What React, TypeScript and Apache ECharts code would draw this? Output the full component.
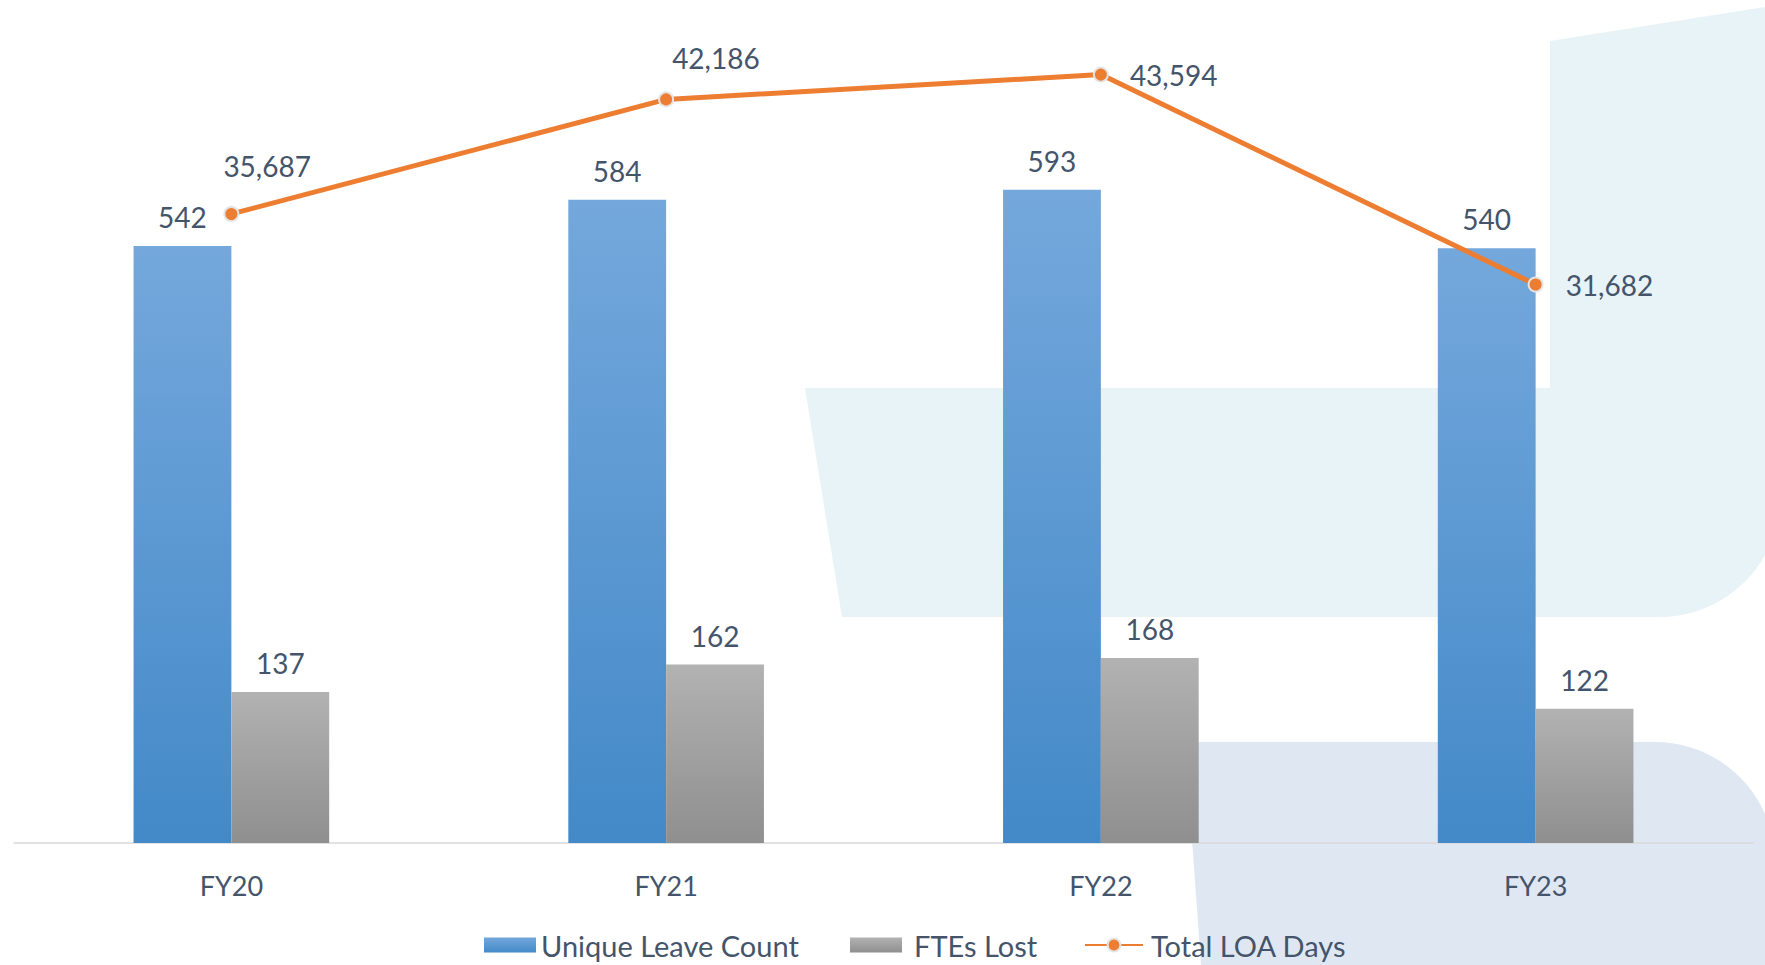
import React, { useEffect, useRef } from "react";
import * as echarts from "echarts";

const categories = ["FY20", "FY21", "FY22", "FY23"];
const uniqueLeaveCount = [542, 584, 593, 540];
const ftesLost = [137, 162, 168, 122];
const totalLoaDays = [35687, 42186, 43594, 31682];
const seriesNames = ["Unique Leave Count", "FTEs Lost", "Total LOA Days"];

const TEXT = "#44546A";
const FONT = "Lato";

const shapeA =
  "M 805 388 L 1550 388 L 1550 41 L 1765 7 L 1765 555 A 120 120 0 0 1 1660 617 L 842 617 Z";
const shapeB =
  "M 1185 742 L 1655 742 A 120 120 0 0 1 1765 814 L 1765 965 L 1201 965 Z";

let registered = false;
function registerShapes() {
  if (registered) return;
  echarts.graphic.registerShape("bgShapeA", echarts.graphic.extendPath(shapeA, {}) as any);
  echarts.graphic.registerShape("bgShapeB", echarts.graphic.extendPath(shapeB, {}) as any);
  registered = true;
}

export default function App() {
  const ref = useRef<HTMLDivElement>(null);

  useEffect(() => {
    if (!ref.current) return;
    registerShapes();
    const chart = echarts.init(ref.current, null, { renderer: "svg" });

    // label placement for the line labels (relative to symbol box)
    const loaLabelPos = [
      [0, -40],
      [14, -33],
      [37, 8],
      [38, 8],
    ];

    const legendText = { fontSize: 29, color: TEXT, fontFamily: FONT, lineHeight: 30 };

    const option: any = {
      animation: false,
      backgroundColor: "#ffffff",
      textStyle: { fontFamily: FONT },
      graphic: [
        { type: "bgShapeA", x: 0, y: 0, z: -10, silent: true, style: { fill: "#E7F3F6" } },
        { type: "bgShapeB", x: 0, y: 0, z: -10, silent: true, style: { fill: "#DFE8F2" } },
      ],
      grid: { left: 14, right: 12, top: 72, bottom: 122, containLabel: false },
      legend: [
        {
          left: 484,
          top: 930,
          padding: 0,
          itemWidth: 52,
          itemHeight: 15,
          textStyle: legendText,
          data: [{ name: seriesNames[0], icon: "rect" }],
        },
        {
          left: 850,
          top: 930,
          padding: 0,
          itemWidth: 52,
          itemHeight: 15,
          textStyle: { ...legendText, padding: [0, 0, 0, 7] },
          data: [{ name: seriesNames[1], icon: "rect" }],
        },
        {
          left: 1084,
          top: 930,
          padding: 0,
          itemWidth: 58,
          itemHeight: 16,
          textStyle: { ...legendText, padding: [0, 0, 0, 3] },
          data: [{ name: seriesNames[2] }],
        },
      ],
      xAxis: {
        type: "category",
        data: categories,
        axisTick: { show: false },
        axisLine: { lineStyle: { color: "#D9D9D9", width: 1.5 } },
        axisLabel: { fontSize: 27, color: TEXT, fontFamily: FONT, margin: 29 },
        splitLine: { show: false },
      },
      yAxis: [
        { type: "value", min: 0, max: 700, show: false, splitLine: { show: false } },
        { type: "value", min: 0, max: 43740, show: false, splitLine: { show: false } },
      ],
      series: [
        {
          name: seriesNames[0],
          type: "bar",
          data: uniqueLeaveCount,
          barGap: "0%",
          barCategoryGap: "55%",
          itemStyle: {
            color: new echarts.graphic.LinearGradient(0, 0, 0, 1, [
              { offset: 0, color: "#74A8DC" },
              { offset: 1, color: "#4389C8" },
            ]),
          },
          label: {
            show: true,
            position: "top",
            distance: 15,
            fontSize: 28,
            color: TEXT,
            fontFamily: FONT,
          },
        },
        {
          name: seriesNames[1],
          type: "bar",
          data: ftesLost,
          itemStyle: {
            color: new echarts.graphic.LinearGradient(0, 0, 0, 1, [
              { offset: 0, color: "#B2B2B2" },
              { offset: 1, color: "#8F8F8F" },
            ]),
          },
          label: {
            show: true,
            position: "top",
            distance: 15,
            fontSize: 28,
            color: TEXT,
            fontFamily: FONT,
          },
        },
        {
          name: seriesNames[2],
          type: "line",
          yAxisIndex: 1,
          z: 5,
          symbol: "circle",
          symbolSize: 14,
          lineStyle: { color: "#ED7D31", width: 5 },
          itemStyle: { color: "#ED7D31", borderColor: "#E4E4E4", borderWidth: 2 },
          data: totalLoaDays.map((v, i) => ({
            value: v,
            label: {
              show: true,
              position: loaLabelPos[i],
              align: "left",
              verticalAlign: "middle",
              fontSize: 28,
              color: TEXT,
              fontFamily: FONT,
              textBorderWidth: 0,
              formatter: (p: any) => Number(p.value).toLocaleString("en-US"),
            },
          })),
        },
      ],
    };

    chart.setOption(option);
    return () => chart.dispose();
  }, []);

  return (
    <div
      ref={ref}
      style={{ position: "fixed", left: 0, top: 0, width: 1765, height: 965 }}
    />
  );
}
